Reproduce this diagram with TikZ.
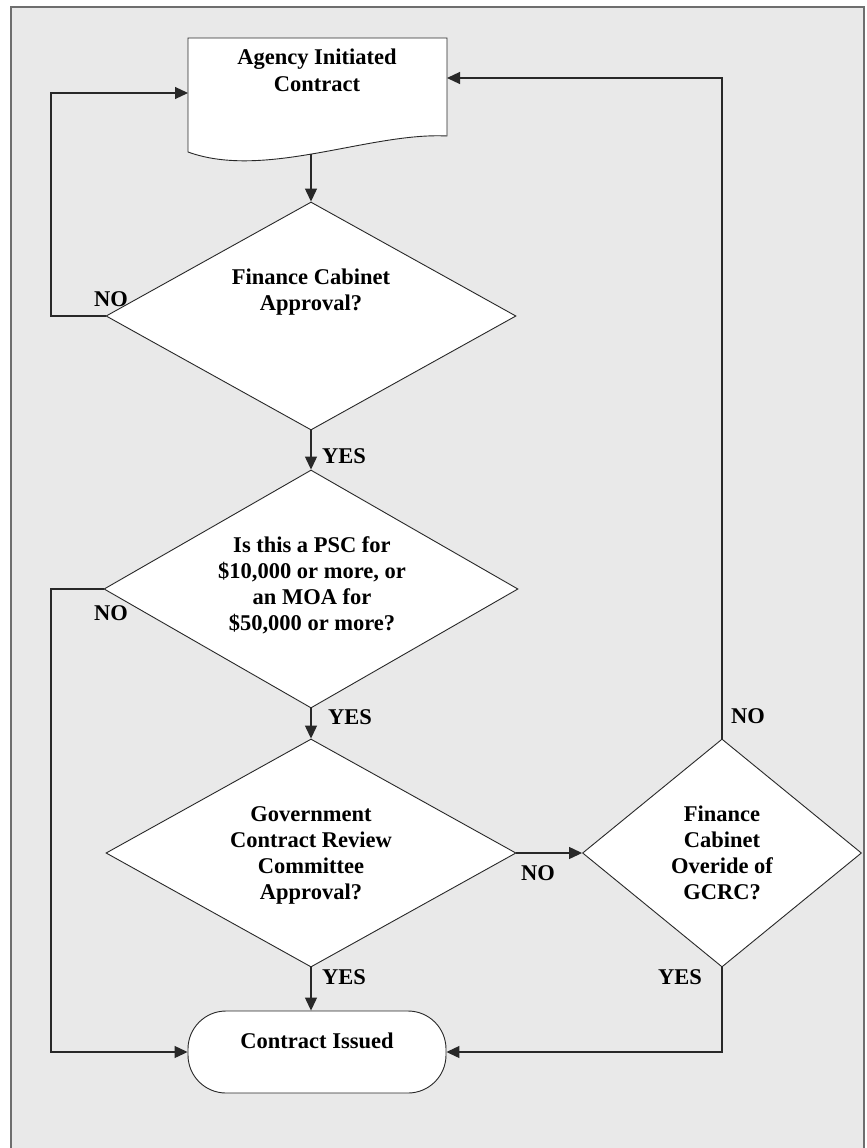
\documentclass[tikz,border=0pt]{standalone}
\usepackage{fontspec}
\setmainfont{Liberation Serif}
\usetikzlibrary{shapes.geometric,arrows.meta,calc}
\definecolor{bggray}{RGB}{233,233,233}
\definecolor{framegray}{RGB}{110,110,110}
\definecolor{inkgray}{RGB}{40,40,40}
\newcommand\ls{\rule[-7pt]{0pt}{26pt}}
\begin{document}
\begin{tikzpicture}[x=1pt,y=-1pt,
  every node/.style={font=\fontsize{22.5}{26}\selectfont\bfseries},
  dia/.style={shape=diamond, draw=inkgray, fill=white, line width=0.9pt, inner sep=0pt},
  term/.style={draw=inkgray, fill=white, line width=0.9pt, rounded corners=38pt, inner sep=0pt},
  txt/.style={inner sep=0pt, align=center},
  lab/.style={inner sep=0pt},
  arr/.style={draw=inkgray, line width=1.2pt, -{Triangle[length=13pt,width=12pt]}}]
\useasboundingbox (0,0) rectangle (867,1148);
\clip (0,0) rectangle (867,1148);
\fill[white] (0,0) rectangle (867,1148);
\draw[draw=framegray, line width=2pt, fill=bggray] (11,7) rectangle (864,1160);

% document shape
\draw[draw=inkgray, fill=white, line width=0.9pt]
  (188,38) -- (447,38) -- (447,136) .. controls (370,132) and (265,180) .. (188,152) -- cycle;
\coordinate (docL) at (188,93);
\coordinate (docR) at (447,78);
\coordinate (docB) at (311,154);
\coordinate (loopx) at (51,0);
\node[txt] (doctext) at (317,72) {\ls Agency Initiated\\\ls Contract};

% decisions
\node[dia, minimum width=410pt, minimum height=228pt] (d1) at (311,316) {};
\node[txt] (d1text) at (311,291) {\ls Finance Cabinet\\\ls Approval?};

\node[dia, minimum width=414pt, minimum height=238pt] (d2) at (311,589) {};
\node[txt] (d2text) at (312,585) {\ls Is this a PSC for\\\ls \$10,000 or more, or\\\ls an MOA for\\\ls \$50,000 or more?};

\node[dia, minimum width=410pt, minimum height=228pt] (d3) at (311,853) {};
\node[txt] (d3text) at (311,854) {\ls Government\\\ls Contract Review\\\ls Committee\\\ls Approval?};

\node[dia, minimum width=279pt, minimum height=228pt] (d4) at (722,853) {};
\node[txt] (d4text) at (722,854) {\ls Finance\\\ls Cabinet\\\ls Overide of\\\ls GCRC?};

% terminal
\node[term, minimum width=258pt, minimum height=82pt] (endn) at (317,1052) {};
\node[txt] (endtext) at (317,1042) {\ls Contract Issued};

% connectors
\draw[arr] (docB) -- (d1.north);
\draw[arr] (d1.west) -- (d1.west -| loopx) |- (docL);
\draw[arr] (d1.south) -- (d2.north);
\draw[arr] (d2.west) -- (d2.west -| loopx) |- (endn.west);
\draw[arr] (d2.south) -- (d3.north);
\draw[arr] (d3.east) -- (d4.west);
\draw[arr] (d3.south) -- (d3.south |- endn.north);
\draw[arr] (d4.south) |- (endn.east);
\draw[arr] (d4.north) |- (docR);

% labels
\node[lab] (no1) at (111,300) {\ls NO};
\node[lab] (yes1) at (344,457) {\ls YES};
\node[lab] (no2) at (111,614) {\ls NO};
\node[lab] (yes2) at (350,718) {\ls YES};
\node[lab] (no3) at (538,874) {\ls NO};
\node[lab] (no4) at (748,717) {\ls NO};
\node[lab] (yes3) at (344,978) {\ls YES};
\node[lab] (yes4) at (680,978) {\ls YES};
\end{tikzpicture}
\end{document}
